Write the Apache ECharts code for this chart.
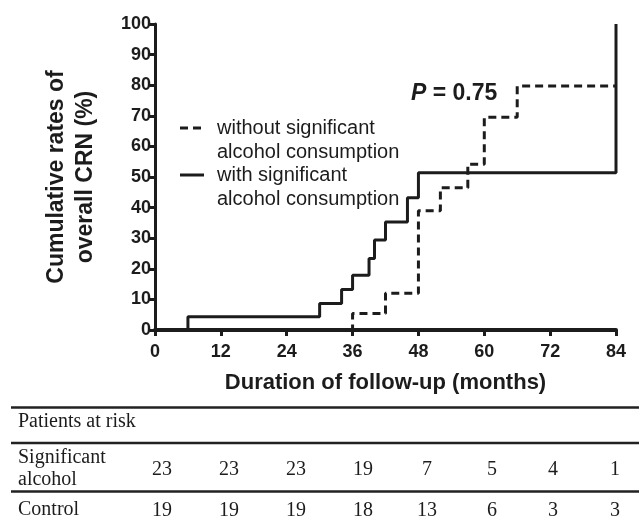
<!DOCTYPE html>
<html>
<head>
<meta charset="utf-8">
<script src="https://cdn.jsdelivr.net/npm/echarts@6/dist/echarts.min.js"></script>
<style>html,body{margin:0;padding:0;background:#fff;}#c{width:639px;height:523px;}</style>
</head>
<body>
<div id="c"></div>
<script>
// ---- data ----
const xTicks = [0, 12, 24, 36, 48, 60, 72, 84];
// with significant alcohol consumption (solid): [month, cumulative %]
const withTimes  = [0, 6, 30, 34, 36, 39, 40, 42, 46, 48, 84];
const withRates  = [0, 4.3, 8.7, 13.2, 17.9, 23.4, 29.4, 35.3, 43.2, 51.4, 100];
// without significant alcohol consumption (dashed)
const withoutTimes = [0, 36, 42, 48, 52, 57, 60, 66, 84];
const withoutRates = [0, 5.4, 12.0, 39.0, 46.5, 54.2, 69.5, 79.7, 79.7];
const seriesNames = ['without significant\nalcohol consumption', 'with significant\nalcohol consumption'];
const pValueText = '0.75';
// risk table
const riskHeader = 'Patients at risk';
const riskRowLabels = ['Significant\nalcohol', 'Control'];
const riskSignificant = [23, 23, 23, 19, 7, 5, 4, 1];
const riskControl = [19, 19, 19, 18, 13, 6, 3, 3];

// ---- layout (not data) ----
const colX = [162, 229, 296, 363, 427, 492, 553, 615];
const sans = '"Liberation Sans", Arial, sans-serif';
const serif = '"Liberation Serif", "Times New Roman", serif';
const ink = '#1c1c1c';

const chart = echarts.init(document.getElementById('c'));

const graphics = [];
// legend (custom, to match the reference's first-line icon alignment)
const legTop = [128, 175];
const legDash = [[8, 5], null];
seriesNames.forEach((n, i) => {
  graphics.push({
    type: 'line', shape: {x1: 180, y1: legTop[i], x2: 204, y2: legTop[i]},
    style: {stroke: ink, lineWidth: 3, lineDash: legDash[i] || null}
  });
  graphics.push({
    type: 'text', left: 217, top: legTop[i] - 12,
    style: {text: n, font: '20px ' + sans, fill: ink, lineHeight: 24}
  });
});
// P value
graphics.push({
  type: 'text', left: 411, top: 82,
  style: {
    text: '{i|P}{b| = ' + pValueText + '}',
    rich: {
      i: {font: 'italic bold 23px ' + sans, fill: ink},
      b: {font: 'bold 23px ' + sans, fill: ink}
    }
  }
});
// table lines
[407.5, 443, 491.5].forEach(y => {
  graphics.push({type: 'line', shape: {x1: 11, y1: y, x2: 639, y2: y}, style: {stroke: '#222', lineWidth: 2.5}});
});
graphics.push({type: 'text', left: 18, top: 412, style: {text: riskHeader, font: '20px ' + serif, fill: ink}});
graphics.push({type: 'text', left: 18, top: 447, style: {text: riskRowLabels[0], font: '20px ' + serif, fill: ink, lineHeight: 22}});
graphics.push({type: 'text', left: 18, top: 500, style: {text: riskRowLabels[1], font: '20px ' + serif, fill: ink}});
riskSignificant.forEach((v, i) => {
  graphics.push({type: 'text', x: colX[i], y: 470, style: {text: String(v), font: '20px ' + serif, fill: ink, align: 'center', verticalAlign: 'middle'}});
});
riskControl.forEach((v, i) => {
  graphics.push({type: 'text', x: colX[i], y: 511, style: {text: String(v), font: '20px ' + serif, fill: ink, align: 'center', verticalAlign: 'middle'}});
});

chart.setOption({
  animation: false,
  backgroundColor: '#fff',
  grid: {left: 155, right: 23, top: 24, bottom: 193, containLabel: false},
  xAxis: {
    type: 'value', min: 0, max: 84, interval: 12, z: 10,
    name: 'Duration of follow-up (months)', nameLocation: 'middle', nameGap: 42,
    nameTextStyle: {fontFamily: sans, fontWeight: 'bold', fontSize: 22, color: ink},
    axisLine: {show: true, onZero: false, lineStyle: {color: ink, width: 4}},
    axisTick: {show: true, length: 6, lineStyle: {color: ink, width: 3}},
    axisLabel: {fontFamily: sans, fontWeight: 'bold', fontSize: 18, color: ink, margin: 13,
      formatter: v => xTicks.includes(v) ? String(v) : ''},
    splitLine: {show: false}
  },
  yAxis: {
    type: 'value', min: 0, max: 100, interval: 10, z: 10,
    name: 'Cumulative rates of\noverall CRN (%)', nameLocation: 'middle', nameGap: 55,
    nameTextStyle: {fontFamily: sans, fontWeight: 'bold', fontSize: 23, color: ink, lineHeight: 29},
    axisLine: {show: true, lineStyle: {color: ink, width: 3}},
    axisTick: {show: true, length: 6, lineStyle: {color: ink, width: 3}},
    axisLabel: {fontFamily: sans, fontWeight: 'bold', fontSize: 18, color: ink, margin: 4},
    splitLine: {show: false}
  },
  series: [
    {
      name: seriesNames[0], type: 'line', step: 'end', showSymbol: false, symbol: 'none',
      data: withoutTimes.map((t, i) => [t, withoutRates[i]]),
      lineStyle: {color: ink, width: 3, type: [8, 5]}, z: 3
    },
    {
      name: seriesNames[1], type: 'line', step: 'end', showSymbol: false, symbol: 'none',
      data: withTimes.map((t, i) => [t, withRates[i]]),
      lineStyle: {color: ink, width: 3, type: 'solid'}, z: 4
    }
  ],
  graphic: graphics
});
</script>
</body>
</html>
